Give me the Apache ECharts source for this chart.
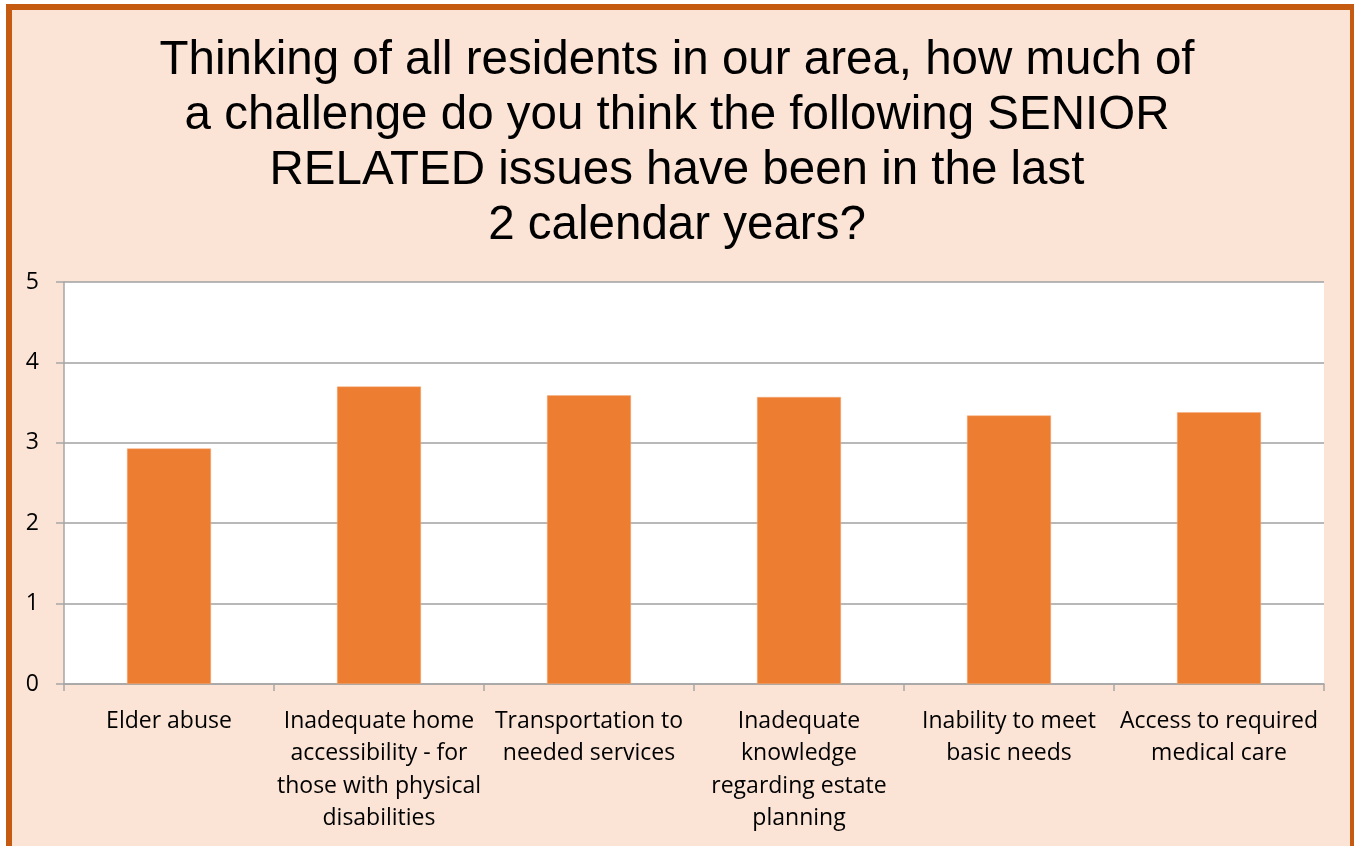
<!DOCTYPE html>
<html>
<head>
<meta charset="utf-8">
<script src="https://cdn.jsdelivr.net/npm/echarts@6/dist/echarts.min.js"></script>
<style>
  html, body { margin: 0; padding: 0; background: #ffffff; }
  #chart { width: 1354px; height: 846px; }
</style>
</head>
<body>
<div id="chart"></div>
<script>
// Survey question shown as the chart heading
const titleLines = [
  'Thinking of all residents in our area, how much of',
  'a challenge do you think the following SENIOR',
  'RELATED issues have been in the last',
  '2 calendar years?'
];

// Issue categories (line breaks as drawn under the axis)
const categories = [
  'Elder abuse',
  'Inadequate home\naccessibility - for\nthose with physical\ndisabilities',
  'Transportation to\nneeded services',
  'Inadequate\nknowledge\nregarding estate\nplanning',
  'Inability to meet\nbasic needs',
  'Access to required\nmedical care'
];

// Average challenge rating per issue
const ratings = [2.93, 3.70, 3.59, 3.57, 3.34, 3.38];

// Value axis range
const yMin = 0;
const yMax = 5;
const yStep = 1;

const chart = echarts.init(document.getElementById('chart'), null, { renderer: 'canvas' });

chart.setOption({
  backgroundColor: '#ffffff',
  animation: false,
  graphic: [{
    type: 'rect',
    z: -10,
    shape: { x: 9, y: 7, width: 1344, height: 850 },
    style: { fill: '#FBE4D6', stroke: '#C55A11', lineWidth: 6 }
  }],
  title: {
    text: titleLines.join('\n'),
    left: 'center',
    top: 28,
    textStyle: {
      fontFamily: 'Liberation Sans, Arial, sans-serif',
      fontSize: 47.5,
      fontWeight: 'normal',
      lineHeight: 55,
      color: '#000000'
    }
  },
  grid: {
    left: 64,
    right: 30,
    top: 282,
    bottom: 162,
    show: true,
    backgroundColor: '#ffffff',
    borderWidth: 0
  },
  xAxis: {
    type: 'category',
    data: categories,
    axisLine: { show: true, lineStyle: { color: '#A6A6A6', width: 1.5 } },
    axisTick: { show: true, interval: 0, length: 7, lineStyle: { color: '#A6A6A6', width: 1.5 } },
    axisLabel: {
      interval: 0,
      margin: 21,
      fontFamily: 'Open Sans, Carlito, Calibri, sans-serif',
      fontSize: 23,
      lineHeight: 32.5,
      color: '#000000',
      align: 'center'
    }
  },
  yAxis: {
    type: 'value',
    min: yMin,
    max: yMax,
    interval: yStep,
    axisLine: { show: true, lineStyle: { color: '#A6A6A6', width: 1.5 } },
    axisTick: { show: true, length: 8, lineStyle: { color: '#A6A6A6', width: 1.5 } },
    axisLabel: {
      margin: 25,
      fontFamily: 'Open Sans, Carlito, Calibri, sans-serif',
      fontSize: 23,
      color: '#000000'
    },
    splitLine: { show: true, lineStyle: { color: '#A0A0A0', width: 1.5 } }
  },
  series: [{
    type: 'bar',
    data: ratings,
    barWidth: '40%',
    itemStyle: { color: '#ED7D31', borderColor: '#F4B183', borderWidth: 0.5 }
  }]
});
</script>
</body>
</html>
